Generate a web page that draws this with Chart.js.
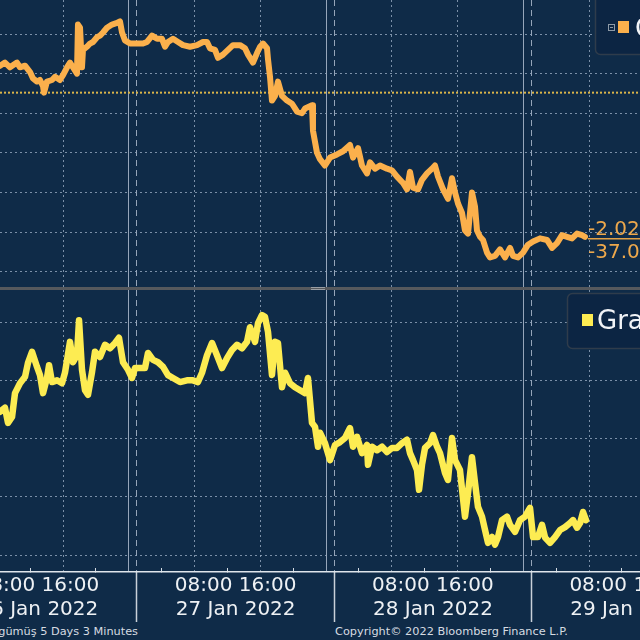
<!DOCTYPE html>
<html><head><meta charset="utf-8">
<script src="https://cdn.jsdelivr.net/npm/chart.js@4.4.1/dist/chart.umd.min.js"></script>
<style>
html,body{margin:0;padding:0;background:#0f2b48;width:640px;height:640px;overflow:hidden;}
#top{position:absolute;left:0;top:0;width:640px;height:287px;}
#sep{position:absolute;left:0;top:287px;width:640px;height:3px;background:#56595d;}
#grip{position:absolute;left:311px;top:287px;width:14px;height:1px;border-top:1px solid #9a9ea3;border-bottom:1px solid #9a9ea3;}
#bot{position:absolute;left:0;top:290px;width:640px;height:335px;}
.foot{position:absolute;top:625px;line-height:14px;font-family:"DejaVu Sans";font-size:11.3px;color:#d6dce2;white-space:nowrap;}
</style></head><body>
<div id="top"><canvas id="c1"></canvas></div>
<div id="sep"></div><div id="grip"></div>
<div id="bot"><canvas id="c2"></canvas></div>
<div class="foot" style="right:502px;">Gram gümüş 5 Days 3 Minutes</div>
<div class="foot" style="left:335px;">Copyright© 2022 Bloomberg Finance L.P.</div>
<script>
// ---- time axis (hours since 26 Jan 2022 00:00) ----
const X_MIN = 8.336, X_MAX = 86.19;
const gridHours = [16, 32, 40, 56, 64, 80];          // 08:00 / 16:00 dotted lines
const midnightHours = [24, 48, 72];                  // solid day lines
const sessionHours = [1, 25, 49, 73];                // dashed session lines / label separators
const minorTickHours = [12, 20, 28, 36, 44, 52, 60, 68, 76, 84];
const timeLabel = '08:00 16:00';
const dayLabels = ['26 Jan 2022', '27 Jan 2022', '28 Jan 2022', '29 Jan 2022'];

// ---- top panel ----
const topName = 'Ons gümüş';
const topGrid = [24.0, 23.75, 23.5, 23.25, 23.0, 22.75, 22.5];
const topRange = [22.403, 24.215];
const prevClose = 23.63;
const topTags = ['-2.027', '-37.08'];
const topHours = [
 8.34,8.94,9.55,10.40,10.77,11.38,11.99,12.35,12.84,13.20,
 13.57,13.69,14.05,14.66,15.03,15.63,16.00,16.49,16.85,17.22,
 17.70,17.82,18.07,18.31,18.43,18.92,19.28,19.65,20.14,20.50,
 20.87,21.35,21.96,22.57,22.93,23.18,23.54,24.15,25.00,25.73,
 26.22,26.83,27.44,28.04,28.41,28.77,29.38,29.99,30.60,31.45,
 32.30,33.03,33.52,33.88,34.49,34.86,35.46,36.07,36.68,37.53,
 38.14,38.51,39.11,39.60,39.97,40.33,40.82,40.94,41.18,41.42,
 41.79,42.15,42.64,43.25,43.86,44.47,45.07,45.44,46.29,46.41,
 46.90,47.26,47.87,48.48,49.33,50.06,50.91,51.28,51.89,52.37,
 52.98,53.35,53.96,54.56,55.41,56.02,56.63,57.36,57.85,58.21,
 58.58,59.19,59.67,60.28,60.89,61.25,61.62,62.23,62.84,63.32,
 63.69,64.05,64.54,64.90,65.27,65.75,66.12,66.36,66.73,67.09,
 67.58,67.94,68.55,69.16,69.77,70.38,70.74,71.35,71.96,72.57,
 73.18,74.03,74.88,75.49,76.09,76.70,77.31,77.92,78.53,79.14,
 79.50];
const topValues = [
 23.80,23.82,23.79,23.82,23.79,23.80,23.76,23.72,23.70,23.71,
 23.67,23.63,23.70,23.71,23.73,23.71,23.74,23.79,23.82,23.79,
 23.75,24.06,24.04,23.79,23.90,23.92,23.94,23.95,23.98,23.99,
 24.01,24.04,24.06,24.07,24.08,24.01,23.96,23.94,23.94,23.94,
 23.95,23.99,23.97,23.97,23.92,23.95,23.97,23.95,23.93,23.92,
 23.93,23.95,23.95,23.91,23.90,23.85,23.87,23.90,23.93,23.93,
 23.91,23.87,23.82,23.88,23.92,23.94,23.91,23.84,23.73,23.58,
 23.61,23.70,23.61,23.58,23.56,23.51,23.50,23.53,23.55,23.39,
 23.25,23.21,23.17,23.22,23.24,23.26,23.30,23.22,23.28,23.17,
 23.12,23.19,23.15,23.17,23.15,23.14,23.10,23.06,23.02,23.13,
 23.03,23.02,23.08,23.12,23.15,23.17,23.10,23.02,22.96,23.09,
 23.00,22.93,22.87,22.76,22.74,23.00,22.91,22.76,22.72,22.70,
 22.62,22.59,22.60,22.64,22.59,22.65,22.60,22.59,22.62,22.67,
 22.69,22.71,22.70,22.65,22.68,22.73,22.72,22.71,22.74,22.73,
 22.72];

// ---- bottom panel ----
const botName = 'Gram gümüş';
const botGrid = [10.6, 10.5, 10.4, 10.3, 10.2];
const botRange = [10.171, 10.655];
const botHours = [
 8.34,8.94,9.31,9.80,10.16,10.77,11.38,11.74,12.23,12.84,
 13.20,13.57,14.05,14.30,14.66,15.27,15.88,16.24,16.85,17.22,
 17.70,17.95,18.31,18.68,19.04,19.53,19.89,20.50,21.11,21.72,
 22.33,22.81,23.30,23.91,24.39,24.76,25.37,25.97,26.34,26.95,
 27.56,28.17,28.77,29.38,30.23,31.08,31.81,32.42,32.91,33.52,
 34.13,34.73,35.34,35.95,36.56,37.17,37.78,38.38,38.75,39.36,
 39.72,40.21,40.57,40.94,41.42,41.79,42.15,42.64,43.01,43.61,
 44.22,44.83,45.44,45.80,46.29,46.66,47.02,47.26,47.87,48.48,
 49.09,49.70,50.30,50.91,51.28,51.77,52.37,52.98,53.10,53.59,
 54.20,54.81,55.41,56.02,56.63,57.24,57.85,58.21,58.58,59.06,
 59.31,59.67,60.04,60.65,61.01,61.50,61.86,62.47,62.83,63.32,
 63.69,64.29,64.90,65.27,65.75,66.12,66.48,66.97,67.34,67.70,
 68.19,68.55,68.92,69.40,70.01,70.38,70.99,71.59,72.20,72.81,
 73.18,73.78,74.27,74.64,75.24,75.85,76.46,77.07,77.68,78.04,
 78.53,78.90,79.26,79.62];
const botValues = [
 10.446,10.453,10.427,10.437,10.478,10.495,10.506,10.530,10.549,10.523,
 10.509,10.478,10.504,10.526,10.497,10.500,10.495,10.513,10.566,10.531,
 10.543,10.603,10.518,10.483,10.475,10.514,10.549,10.540,10.561,10.555,
 10.564,10.573,10.531,10.518,10.504,10.521,10.521,10.521,10.547,10.535,
 10.531,10.523,10.509,10.504,10.497,10.500,10.500,10.497,10.513,10.543,
 10.564,10.543,10.521,10.538,10.552,10.561,10.555,10.566,10.591,10.566,
 10.598,10.612,10.609,10.583,10.509,10.566,10.564,10.488,10.513,10.495,
 10.488,10.483,10.478,10.504,10.427,10.420,10.386,10.410,10.392,10.363,
 10.389,10.394,10.401,10.418,10.386,10.403,10.375,10.389,10.355,10.386,
 10.380,10.386,10.377,10.384,10.384,10.392,10.398,10.375,10.363,10.346,
 10.312,10.355,10.384,10.392,10.406,10.386,10.375,10.341,10.329,10.401,
 10.363,10.346,10.266,10.307,10.368,10.324,10.283,10.266,10.243,10.221,
 10.231,10.218,10.231,10.260,10.266,10.252,10.240,10.260,10.266,10.281,
 10.231,10.231,10.252,10.230,10.221,10.231,10.243,10.248,10.255,10.260,
 10.247,10.255,10.274,10.260];

// ---- styling ----
const ORANGE = '#fbb04c', YELLOW = '#fdec52';
const DOT = 'rgba(150,170,192,0.8)';
const LINE = 'rgba(165,180,198,0.9)';
const FONT = '"DejaVu Sans", Verdana, sans-serif';

function pts(xs, ys) { return xs.map((h, i) => ({x: h, y: ys[i]})); }

function gridAxis(ticks, color, dash, extra) {
  return Object.assign({
    type: 'linear', position: 'bottom', min: X_MIN, max: X_MAX, weight: 0,
    afterBuildTicks: s => { s.ticks = ticks.map(v => ({value: v})); },
    afterFit: s => { s.height = 0; s.paddingLeft = 0; s.paddingRight = 0; },
    ticks: {display: false},
    grid: {color: color, lineWidth: 1, drawTicks: false, borderDash: dash},
    border: {display: false, dash: dash}
  }, extra || {});
}
function yAxis(range, grid) {
  return {
    type: 'linear', position: 'right', min: range[0], max: range[1],
    afterBuildTicks: s => { s.ticks = grid.map(v => ({value: v})); },
    afterFit: s => { s.width = 0; s.paddingTop = 0; s.paddingBottom = 0; },
    ticks: {display: false},
    grid: {color: DOT, lineWidth: 1, drawTicks: false, borderDash: [2, 3]},
    border: {display: false, dash: [2, 3]}
  };
}
function roundBox(ctx, x, y, w, h, r, fill, stroke) {
  ctx.beginPath();
  ctx.moveTo(x + r, y); ctx.lineTo(x + w - r, y); ctx.arcTo(x + w, y, x + w, y + r, r);
  ctx.lineTo(x + w, y + h - r); ctx.arcTo(x + w, y + h, x + w - r, y + h, r);
  ctx.lineTo(x + r, y + h); ctx.arcTo(x, y + h, x, y + h - r, r);
  ctx.lineTo(x, y + r); ctx.arcTo(x, y, x + r, y, r); ctx.closePath();
  ctx.fillStyle = fill; ctx.fill(); ctx.strokeStyle = stroke; ctx.lineWidth = 1.5; ctx.stroke();
}

const topDeco = {
  id: 'topDeco',
  afterDraw(chart) {
    const ctx = chart.ctx, ds = chart.data.datasets[0];
    const xs = chart.scales.x, ys = chart.scales.y;
    ctx.save();
    roundBox(ctx, 595.5, -10, 130, 64.5, 5, '#0c2543', '#2f3c4b');
    ctx.strokeStyle = '#8e9aa6'; ctx.lineWidth = 1; ctx.strokeRect(608.5, 24.5, 6, 6);
    ctx.fillStyle = '#8e9aa6'; ctx.fillRect(610, 27, 3, 1);
    ctx.fillStyle = ds.borderColor; ctx.fillRect(618, 21, 11, 12);
    ctx.fillStyle = '#f2f4f7'; ctx.font = '26px ' + FONT; ctx.textBaseline = 'alphabetic';
    ctx.fillText(ds.label, 635, 37);
    const li = topValues.length - 1;
    const px = xs.getPixelForValue(topHours[li]) + 3;
    const py = ys.getPixelForValue(topValues[li]);
    ctx.strokeStyle = '#e3a246'; ctx.lineWidth = 1.5;
    ctx.beginPath(); ctx.moveTo(px, py + 2); ctx.lineTo(700, py + 2); ctx.stroke();
    ctx.fillStyle = '#eda84c'; ctx.font = '20px ' + FONT;
    ctx.fillText(topTags[0], px, py - 2);
    ctx.fillText(topTags[1], px, py + 21);
    ctx.restore();
  }
};
const botDeco = {
  id: 'botDeco',
  afterDraw(chart) {
    const ctx = chart.ctx, ds = chart.data.datasets[0];
    ctx.save();
    roundBox(ctx, 567.5, 3.5, 140, 55, 5, '#0c2543', '#2f3c4b');
    ctx.fillStyle = ds.borderColor; ctx.fillRect(582, 24, 11, 12);
    ctx.fillStyle = '#f2f4f7'; ctx.font = '26px ' + FONT; ctx.textBaseline = 'alphabetic';
    ctx.fillText(ds.label, 597, 39);
    ctx.restore();
  }
};

const common = {
  responsive: true, maintainAspectRatio: false, animation: false, events: [],
  layout: {padding: 0},
  plugins: {legend: {display: false}, tooltip: {enabled: false}}
};

new Chart(document.getElementById('c1'), {
  type: 'line',
  data: {datasets: [
    {label: topName, data: pts(topHours, topValues), borderColor: ORANGE, borderWidth: 6,
     pointRadius: 0, tension: 0, borderJoinStyle: 'round', borderCapStyle: 'round'},
    {label: 'prev', data: [{x: X_MIN, y: prevClose}, {x: X_MAX, y: prevClose}], borderColor: '#d9b54a',
     borderWidth: 2, borderDash: [2, 2], pointRadius: 0}
  ]},
  options: Object.assign({}, common, {
    scales: {
      xmid: gridAxis(midnightHours, LINE, []),
      xsess: gridAxis(sessionHours, LINE, [6, 4]),
      x: gridAxis(gridHours, DOT, [2, 3]),
      y: yAxis(topRange, topGrid)
    }
  }),
  plugins: [topDeco]
});

new Chart(document.getElementById('c2'), {
  type: 'line',
  data: {datasets: [
    {label: botName, data: pts(botHours, botValues), borderColor: YELLOW, borderWidth: 6.5,
     pointRadius: 0, tension: 0, borderJoinStyle: 'round', borderCapStyle: 'round'}
  ]},
  options: Object.assign({}, common, {
    scales: {
      xminor: gridAxis(minorTickHours, 'rgba(0,0,0,0)', [], {
        grid: {drawOnChartArea: false, drawTicks: true, tickLength: -4, tickColor: '#d5dce3', tickWidth: 1, color: 'rgba(0,0,0,0)'},
        border: {display: true, color: '#dfe5eb', width: 1.5}
      }),
      xmid: gridAxis(midnightHours, LINE, []),
      xgrid: gridAxis(gridHours, DOT, [2, 3]),
      x: {
        type: 'linear', position: 'bottom', min: X_MIN, max: X_MAX, weight: 10,
        afterBuildTicks: s => { s.ticks = sessionHours.map(v => ({value: v})); },
        afterFit: s => { s.height = 53; s.paddingLeft = 0; s.paddingRight = 0; },
        ticks: {autoSkip: false, maxRotation: 0, minRotation: 0, labelOffset: 98.64, padding: -48,
                color: '#eef1f4', font: {family: FONT, size: 20, lineHeight: 1.2},
                callback: (v, i) => [timeLabel, dayLabels[i]]},
        grid: {color: LINE, lineWidth: 1, drawTicks: true, tickLength: 50, tickColor: '#c9d1d9',
               tickWidth: 1.5, tickBorderDash: [], borderDash: [6, 4]},
        border: {display: false, dash: [6, 4]}
      },
      y: yAxis(botRange, botGrid)
    }
  }),
  plugins: [botDeco]
});
</script>
</body></html>
